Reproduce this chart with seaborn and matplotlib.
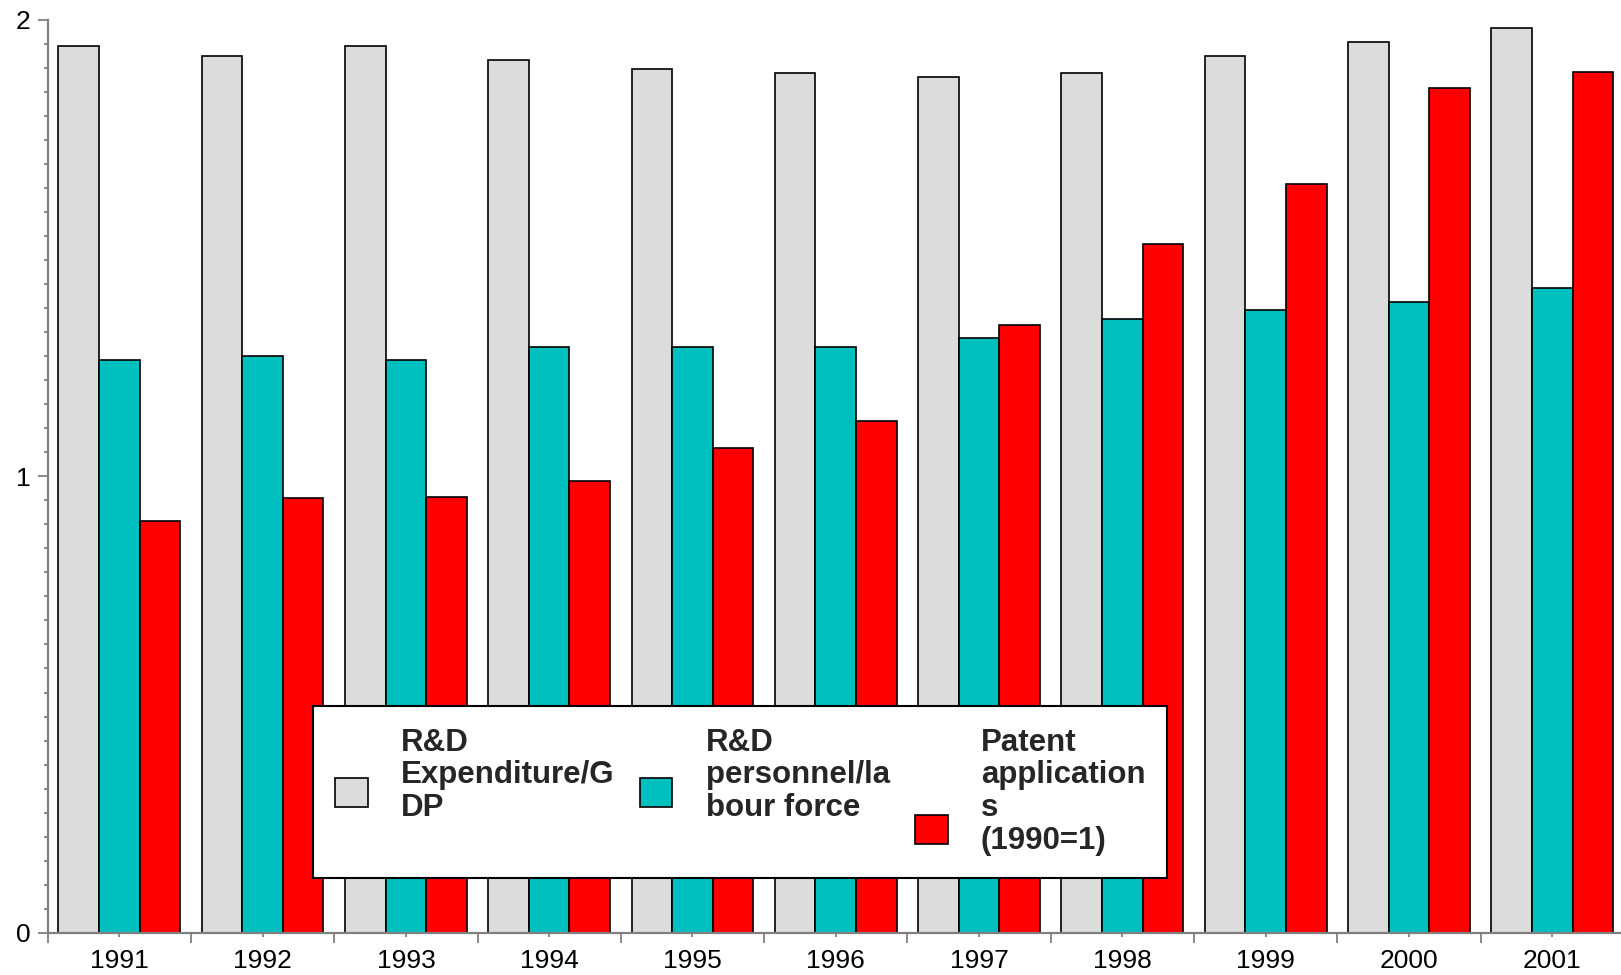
import numpy as np
import pandas as pd
import matplotlib
matplotlib.use("Agg")
import matplotlib.pyplot as plt
import matplotlib.patches as mpatches
from matplotlib.offsetbox import TextArea
from matplotlib.ticker import MultipleLocator, FixedLocator
import seaborn as sns

# ---- data ----
years = ["1991", "1992", "1993", "1994", "1995", "1996",
         "1997", "1998", "1999", "2000", "2001"]
rd_expenditure = [1.942, 1.921, 1.942, 1.913, 1.893, 1.884,
                  1.875, 1.884, 1.921, 1.952, 1.982]
rd_personnel = [1.254, 1.263, 1.254, 1.283, 1.283, 1.283,
                1.304, 1.345, 1.365, 1.383, 1.412]
patents = [0.903, 0.952, 0.955, 0.989, 1.061, 1.122,
           1.331, 1.510, 1.640, 1.851, 1.887]
series_labels = ["R&D\nExpenditure/G\nDP",
                 "R&D\npersonnel/la\nbour force",
                 "Patent\napplication\ns\n(1990=1)"]
series_colors = ["#dcdcdc", "#00bfbf", "#ff0000"]

df = pd.DataFrame({
    "year": years * 3,
    "value": rd_expenditure + rd_personnel + patents,
    "series": np.repeat(series_labels, len(years)),
})

sns.set_style("white")
plt.rcParams["font.family"] = ["Liberation Sans", "DejaVu Sans"]

fig = plt.figure(figsize=(16.21, 9.75), dpi=100)
ax = fig.add_axes([0.0294, 0.0434, 0.9706, 0.9361])

sns.barplot(data=df, x="year", y="value", hue="series",
            hue_order=series_labels, order=years,
            palette=dict(zip(series_labels, series_colors)),
            saturation=1, width=0.85, edgecolor="black", linewidth=1.2,
            errorbar=None, legend=False, ax=ax)

ax.set_xlim(-0.5, 10.48)
ax.set_ylim(0, 2)
ax.set_xlabel("")
ax.set_ylabel("")

# axes styling: grey left/bottom spines only
for side in ["top", "right"]:
    ax.spines[side].set_visible(False)
for side in ["left", "bottom"]:
    ax.spines[side].set_color("#808080")
    ax.spines[side].set_linewidth(1.6)

ax.yaxis.set_major_locator(FixedLocator([0, 1, 2]))
ax.yaxis.set_minor_locator(MultipleLocator(1 / 19))
ax.xaxis.set_minor_locator(FixedLocator(np.arange(len(years) + 1) - 0.5))

ax.tick_params(axis="both", which="both", direction="out", color="#808080",
               width=1.3, labelsize=19, labelcolor="black")
ax.tick_params(axis="y", which="major", length=7.5, pad=5, left=True)
ax.tick_params(axis="y", which="minor", length=3, left=True)
ax.tick_params(axis="x", which="major", length=3, pad=9, bottom=True)
ax.tick_params(axis="x", which="minor", length=7.5, bottom=True)

# legend
handles = [mpatches.Patch(facecolor=c, edgecolor="black", linewidth=1.2)
           for c in series_colors]
leg = ax.legend(handles, series_labels, ncol=3, loc="upper left",
                bbox_to_anchor=(0.1688, 0.2487), borderaxespad=0,
                prop={"size": 22.5, "weight": "bold"},
                frameon=True, fancybox=False, framealpha=1,
                edgecolor="black", borderpad=0.7,
                handlelength=1.05, handleheight=1.05,
                handletextpad=1.06, columnspacing=0.8)
leg.get_frame().set_linewidth(1.5)
for t in leg.get_texts():
    t.set_linespacing(1.12)
# top-align the columns, and sit each swatch near the last text line
leg._legend_handle_box.align = "top"
for column in leg._legend_handle_box.get_children():
    for item in column.get_children():
        for child in item.get_children():
            if isinstance(child, TextArea):
                child._multilinebaseline = False
for patch, lift in zip(leg.legend_handles, [9, 9, 6]):
    patch.set_y(patch.get_y() + lift)

fig.savefig("out.png", dpi=100)
